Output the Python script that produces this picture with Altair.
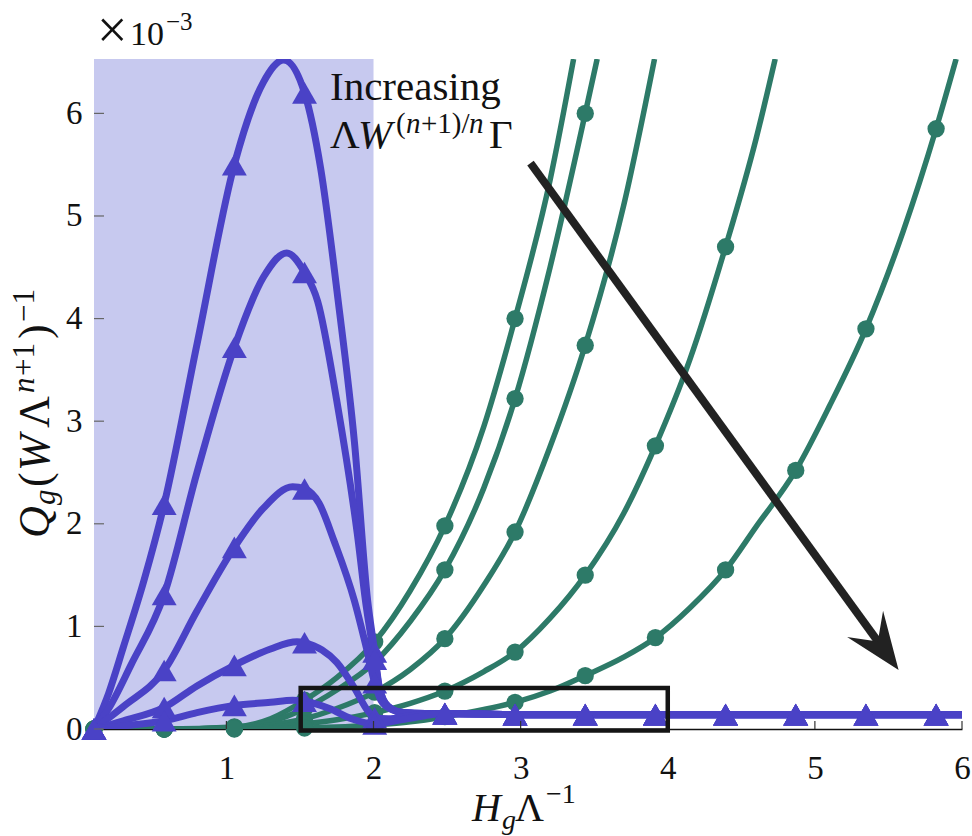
import altair as alt
import pandas as pd

# ---------------- data ----------------
X_DOMAIN = [0.1, 6.0]
Y_DOMAIN = [0.0, 6.53]
X_TICKS = [1, 2, 3, 4, 5, 6]
Y_TICKS = [0, 1, 2, 3, 4, 5, 6]
SHADE_X = [0.1, 2.0]

MARKER_X = [0.1, 0.577, 1.054, 1.531, 2.008, 2.485, 2.962, 3.439, 3.916,
            4.393, 4.87, 5.347, 5.824]

# common flat tail of the blue curves (x > 2)
TAIL_X = [2.485, 2.962, 3.439, 3.916, 4.393, 4.87, 5.347, 5.824, 6.0]
TAIL_Y = [0.15, 0.14, 0.14, 0.14, 0.14, 0.14, 0.14, 0.14, 0.14]

B1_X = [0.1, 0.2, 0.3, 0.44, 0.577, 0.8, 1.054, 1.25, 1.39, 1.531, 1.64, 1.76, 1.87, 1.96, 2.008, 2.04, 2.1, 2.2, 2.35]
B1_Y = [0.0, 0.35, 0.8, 1.45, 2.19, 3.75, 5.5, 6.3, 6.52, 6.2, 5.47, 4.17, 2.8, 1.25, 0.75, 0.4, 0.22, 0.16, 0.15]
B2_X = [0.1, 0.2, 0.35, 0.577, 0.8, 1.054, 1.25, 1.41, 1.531, 1.62, 1.75, 1.89, 1.95, 2.008, 2.04, 2.1, 2.2, 2.35]
B2_Y = [0.0, 0.2, 0.62, 1.31, 2.5, 3.72, 4.4, 4.64, 4.45, 4.17, 3.2, 1.9, 1.2, 0.68, 0.4, 0.22, 0.16, 0.15]
B3_X = [0.1, 0.3, 0.577, 0.8, 1.054, 1.25, 1.45, 1.531, 1.63, 1.73, 1.87, 1.95, 2.008, 2.05, 2.12, 2.2, 2.35]
B3_Y = [0.0, 0.22, 0.57, 1.15, 1.77, 2.15, 2.36, 2.34, 2.2, 1.84, 1.25, 0.8, 0.45, 0.28, 0.19, 0.16, 0.15]
B4_X = [0.1, 0.3, 0.577, 0.8, 1.054, 1.3, 1.48, 1.531, 1.65, 1.75, 1.87, 1.96, 2.008, 2.1, 2.25, 2.35]
B4_Y = [0.0, 0.08, 0.21, 0.42, 0.62, 0.78, 0.85, 0.84, 0.77, 0.65, 0.4, 0.18, 0.11, 0.1, 0.13, 0.14]
B5_X = [0.1, 0.3, 0.577, 0.8, 1.054, 1.3, 1.45, 1.531, 1.7, 1.85, 2.008, 2.15, 2.35]
B5_Y = [0.0, 0.03, 0.08, 0.16, 0.23, 0.26, 0.28, 0.27, 0.2, 0.1, 0.05, 0.08, 0.13]

G1_X = [0.1, 0.577, 1.054, 1.3, 1.531, 1.75, 2.008, 2.25, 2.485, 2.75, 2.962, 3.2, 3.36]
G1_Y = [0.0, 0.0, 0.02, 0.1, 0.28, 0.5, 0.85, 1.35, 1.98, 2.95, 4.0, 5.35, 6.53]
G2_X = [0.1, 0.577, 1.054, 1.3, 1.531, 1.75, 2.008, 2.25, 2.485, 2.75, 2.962, 3.2, 3.439, 3.52]
G2_Y = [0.0, 0.0, 0.015, 0.07, 0.2, 0.38, 0.65, 1.05, 1.55, 2.35, 3.22, 4.5, 6.0, 6.53]
G3_X = [0.1, 0.577, 1.054, 1.3, 1.531, 1.75, 2.008, 2.25, 2.485, 2.75, 2.962, 3.2, 3.439, 3.7, 3.91]
G3_Y = [0.0, 0.0, 0.01, 0.04, 0.1, 0.2, 0.36, 0.58, 0.88, 1.4, 1.92, 2.75, 3.74, 5.1, 6.53]
G4_X = [0.1, 0.577, 1.054, 1.3, 1.531, 1.75, 2.008, 2.25, 2.485, 2.75, 2.962, 3.2, 3.439, 3.7, 3.916, 4.15, 4.393, 4.6, 4.73]
G4_Y = [0.0, 0.0, 0.005, 0.02, 0.05, 0.09, 0.16, 0.25, 0.37, 0.56, 0.75, 1.08, 1.5, 2.1, 2.76, 3.6, 4.7, 5.75, 6.53]
G5_X = [0.1, 0.577, 1.054, 1.531, 2.008, 2.25, 2.485, 2.75, 2.962, 3.2, 3.439, 3.7, 3.916, 4.15, 4.393, 4.6, 4.87, 5.1, 5.347, 5.6, 5.824, 5.96]
G5_Y = [0.0, 0.0, 0.0, 0.01, 0.04, 0.07, 0.12, 0.19, 0.26, 0.37, 0.52, 0.7, 0.89, 1.18, 1.55, 1.97, 2.52, 3.15, 3.9, 4.85, 5.85, 6.53]

BOX_X = [1.505, 4.0]
BOX_Y = [-0.015, 0.4]
ARROW_X = [3.067, 5.449]   # tail -> end of shaft
ARROW_Y = [5.516, 0.812]
ARROW_TIP = [5.569, 0.575]

# ---------------- styling ----------------
BLUE = "#4a42c6"
GREEN = "#2d7a68"
SHADE = "#c7c9ef"
INK = "#111111"
FONT = "Liberation Serif"
LEFT, TOP, W, H = 94, 59, 868, 670

xs = alt.Scale(domain=X_DOMAIN, nice=False, zero=False)
ys = alt.Scale(domain=Y_DOMAIN, nice=False, zero=False)
x_axis = alt.Axis(values=X_TICKS, format="d", ticks=False, grid=False, title=None,
                  domainColor=INK, domainWidth=1.4, labelFont=FONT, labelFontSize=33,
                  labelColor=INK, labelPadding=23, labelFlush=False)
y_axis = alt.Axis(values=Y_TICKS, format="d", ticks=False, grid=False, title=None,
                  domainColor="#9a9a9a", domainWidth=1, labelFont=FONT, labelFontSize=33,
                  labelColor=INK, labelPadding=12, labelFlush=False)


def X(f="x"):
    return alt.X(f"{f}:Q", scale=xs, axis=x_axis)


def Y(f="y"):
    return alt.Y(f"{f}:Q", scale=ys, axis=y_axis)


def curves_df(items, tail=None):
    rows = []
    for name, xv, yv in items:
        xx = list(xv) + (list(tail[0]) if tail else [])
        yy = list(yv) + (list(tail[1]) if tail else [])
        for a, b in zip(xx, yy):
            rows.append({"curve": name, "x": a, "y": b})
    return pd.DataFrame(rows)


mk = set(round(v, 3) for v in MARKER_X)
blue = curves_df([("B1", B1_X, B1_Y), ("B2", B2_X, B2_Y), ("B3", B3_X, B3_Y),
                  ("B4", B4_X, B4_Y), ("B5", B5_X, B5_Y)], (TAIL_X, TAIL_Y))
green = curves_df([("G1", G1_X, G1_Y), ("G2", G2_X, G2_Y), ("G3", G3_X, G3_Y),
                   ("G4", G4_X, G4_Y), ("G5", G5_X, G5_Y)])
blue_m = blue[blue["x"].round(3).isin(mk)]
green_m = green[green["x"].round(3).isin(mk)]

layers = []

shade = alt.Chart(pd.DataFrame({"x": [SHADE_X[0]], "x2": [SHADE_X[1]],
                                "y": [Y_DOMAIN[0]], "y2": [Y_DOMAIN[1]]})).mark_rect(
    color=SHADE, opacity=1).encode(x=X(), x2=alt.X2("x2"), y=Y(), y2=alt.Y2("y2"))
layers.append(shade)

layers.append(alt.Chart(green).mark_line(color=GREEN, strokeWidth=5.5, interpolate="monotone",
                                         clip=True).encode(x=X(), y=Y(), detail="curve:N"))
layers.append(alt.Chart(green_m).mark_point(shape="circle", filled=True, size=300, color=GREEN,
                                            opacity=1).encode(x=X(), y=Y()))
layers.append(alt.Chart(blue).mark_line(color=BLUE, strokeWidth=7, interpolate="monotone",
                                        clip=True).encode(x=X(), y=Y(), detail="curve:N"))
layers.append(alt.Chart(blue_m).mark_point(shape="triangle-up", filled=True, size=620, color=BLUE,
                                           opacity=1).encode(x=X(), y=Y()))

# inward ticks
layers.append(alt.Chart(pd.DataFrame({"x": X_TICKS, "y": [0.0] * 6, "y2": [0.078] * 6}))
              .mark_rule(color="#333", strokeWidth=1.2).encode(x=X(), y=Y(), y2=alt.Y2("y2")))
layers.append(alt.Chart(pd.DataFrame({"y": Y_TICKS, "x": [0.1] * 7, "x2": [0.168] * 7}))
              .mark_rule(color="#666", strokeWidth=1.2).encode(x=X(), x2=alt.X2("x2"), y=Y()))

# zoom box
layers.append(alt.Chart(pd.DataFrame({"x": [BOX_X[0]], "x2": [BOX_X[1]], "y": [BOX_Y[0]], "y2": [BOX_Y[1]]}))
              .mark_rect(fillOpacity=0, stroke="#151515", strokeWidth=4.5)
              .encode(x=X(), x2=alt.X2("x2"), y=Y(), y2=alt.Y2("y2")))

# arrow
layers.append(alt.Chart(pd.DataFrame({"x": [ARROW_X[0]], "x2": [ARROW_X[1]], "y": [ARROW_Y[0]], "y2": [ARROW_Y[1]]}))
              .mark_rule(color="#222222", strokeWidth=8)
              .encode(x=X(), x2=alt.X2("x2"), y=Y(), y2=alt.Y2("y2")))
ARROW_PATH = "M0,0 L0.39,1 L0,0.62 L-0.39,1 Z"
layers.append(alt.Chart(pd.DataFrame({"x": [ARROW_TIP[0]], "y": [ARROW_TIP[1]]}))
              .mark_point(shape=ARROW_PATH, size=12996, filled=True, color="#222222", opacity=1,
                          angle=144, strokeWidth=0)
              .encode(x=X(), y=Y()))

# text pieces: (text, page x, page y, size, italic, angle)
TEXTS = [
    ("Increasing", 330, 100, 41, False, 0),
    ("\u039b", 330, 148, 41, False, 0),
    ("W", 358, 148, 41, True, 0),
    ("(", 396, 133, 29, False, 0),
    ("n", 406, 133, 29, True, 0),
    ("+1)/", 421, 133, 29, False, 0),
    ("n", 469, 133, 29, True, 0),
    ("\u0393", 489, 148, 41, False, 0),
    ("\u00d7", 97, 48, 54, False, 0),
    ("10", 130, 45, 34, False, 0),
    ("\u22123", 166, 30, 25, False, 0),
    ("H", 472, 821, 40, True, 0),
    ("g", 502, 829, 28, True, 0),
    ("\u039b", 515, 821, 40, False, 0),
    ("\u22121", 546, 803, 28, False, 0),
    ("Q", 49, 538, 44, True, 270),
    ("g", 55, 505, 31, True, 270),
    ("(", 49, 487, 44, False, 270),
    ("W", 49, 471, 44, True, 270),
    ("\u039b", 49, 428, 44, False, 270),
    ("n", 34, 393, 31, True, 270),
    ("+1", 34, 376, 31, False, 270),
    (")", 49, 339, 44, False, 270),
    ("\u22121", 34, 322, 31, False, 270),
]
for t, px, py, fs, it, ang in TEXTS:
    props = dict(font=FONT, fontSize=fs, color=INK, align="left", baseline="alphabetic")
    if it:
        props["fontStyle"] = "italic"
    if ang:
        props["angle"] = ang
    layers.append(alt.Chart(pd.DataFrame({"t": [t]})).mark_text(**props)
                  .encode(text="t:N", x=alt.value(px - LEFT), y=alt.value(py - TOP)))

chart = alt.layer(*layers).properties(
    width=W, height=H,
    padding={"left": LEFT, "top": TOP, "right": 972 - LEFT - W, "bottom": 836 - TOP - H},
    autosize=alt.AutoSizeParams(type="none"),
    background="white",
).configure_view(stroke=None)

chart.save("out.html", embed_options={"renderer": "svg", "actions": False})
